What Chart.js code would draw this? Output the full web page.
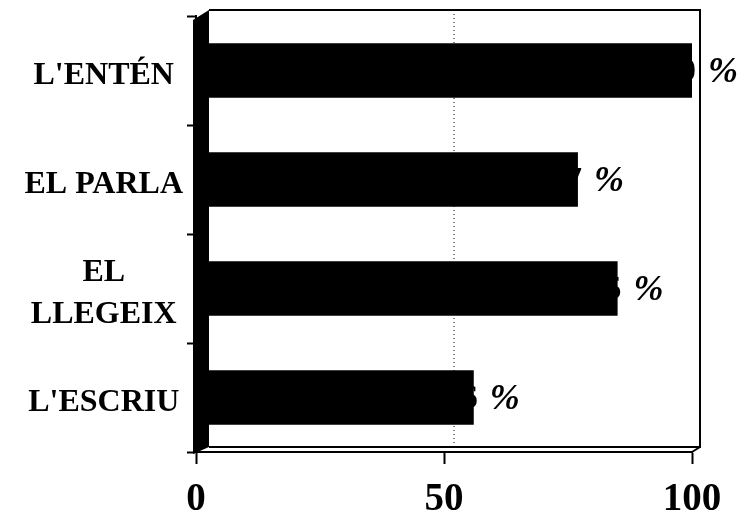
<!DOCTYPE html>
<html>
<head>
<meta charset="utf-8">
<script src="https://cdn.jsdelivr.net/npm/chart.js@4"></script>
<style>
  html, body { margin: 0; padding: 0; background: #fff; }
</style>
</head>
<body>
<canvas id="mycanvas" width="742" height="511"></canvas>
<script>
var categories = ["L'ENTÉN", "EL PARLA", ["EL", "LLEGEIX"], "L'ESCRIU"];
var values = [100, 77, 85, 56];
var xTicks = [0, 50, 100];

// back wall of the fake 3D box, plus the value labels (drawn under the bars)
var wallPlugin = {
    id: 'wall',
    beforeDatasetsDraw: function(chart) {
        var ctx = chart.ctx;
        var a = chart.chartArea;
        var x = chart.scales.x;
        var bl = a.left + 13, bt = a.top - 6, br = a.right + 8, bb = a.bottom - 5;
        ctx.save();
        // left black wall
        ctx.fillStyle = '#000';
        ctx.beginPath();
        ctx.moveTo(a.left - 3, a.top + 4);
        ctx.lineTo(bl, bt);
        ctx.lineTo(bl, bb);
        ctx.lineTo(a.left - 3, a.bottom + 2);
        ctx.closePath();
        ctx.fill();
        // frame
        ctx.strokeStyle = '#000';
        ctx.lineWidth = 2;
        ctx.beginPath();
        ctx.moveTo(bl, bt);
        ctx.lineTo(br, bt);
        ctx.lineTo(br, bb);
        ctx.lineTo(bl, bb);
        ctx.moveTo(br, bb);
        ctx.lineTo(a.right, a.bottom);
        ctx.stroke();
        // dotted 50 line on the back wall
        var xm = x.getPixelForValue(50) + 10;
        ctx.lineWidth = 1;
        ctx.setLineDash([1, 3]);
        ctx.beginPath();
        ctx.moveTo(xm, bt);
        ctx.lineTo(xm, bb);
        ctx.stroke();
        ctx.setLineDash([]);

        // value labels, the number mostly hidden by the bar
        var meta = chart.getDatasetMeta(0);
        ctx.fillStyle = '#000';
        ctx.textBaseline = 'middle';
        ctx.textAlign = 'left';
        meta.data.forEach(function(bar, i) {
            var num = String(values[i]);
            ctx.font = 'bold 34px "Liberation Serif"';
            var nw = ctx.measureText(num).width;
            var xEnd = bar.x + 4;
            ctx.fillText(num, xEnd - nw, bar.y + 2);
            ctx.font = 'italic bold 36px "Liberation Serif"';
            ctx.fillText('%', xEnd + 12, bar.y + 2);
        });
        ctx.restore();
    }
};

var ctx = document.getElementById('mycanvas');

var barGraph = new Chart(ctx, {
    type: 'bar',
    data: {
        labels: categories,
        datasets: [{
            data: values,
            backgroundColor: '#000',
            borderWidth: 0,
            barPercentage: 0.5,
            categoryPercentage: 1.0
        }]
    },
    options: {
        indexAxis: 'y',
        responsive: false,
        animation: false,
        layout: { padding: { top: 16, right: 50, left: 0, bottom: 0 } },
        plugins: {
            legend: { display: false },
            tooltip: { enabled: false }
        },
        scales: {
            x: {
                min: 0,
                max: 100,
                afterBuildTicks: function(scale) {
                    scale.ticks = xTicks.map(function(v) { return { value: v }; });
                },
                afterFit: function(scale) { scale.height = 59; },
                grid: {
                    drawOnChartArea: false,
                    drawTicks: true,
                    tickLength: 12,
                    tickColor: '#000',
                    tickWidth: 2
                },
                border: { display: true, color: '#000', width: 2 },
                ticks: {
                    color: '#000',
                    padding: 13,
                    maxRotation: 0,
                    font: { family: 'Liberation Serif', weight: 'bold', size: 39 }
                }
            },
            y: {
                afterFit: function(scale) {
                    scale.width = 196;
                    scale.paddingTop = 0;
                    scale.paddingBottom = 0;
                },
                grid: {
                    offset: true,
                    drawOnChartArea: false,
                    drawTicks: true,
                    tickLength: 9,
                    tickColor: '#000',
                    tickWidth: 2
                },
                border: { display: true, color: '#000', width: 2 },
                ticks: {
                    color: '#000',
                    padding: 4,
                    labelOffset: 5,
                    crossAlign: 'center',
                    font: { family: 'Liberation Serif', weight: 'bold', size: 32, lineHeight: 1.3 }
                }
            }
        }
    },
    plugins: [wallPlugin]
});
</script>
</body>
</html>
